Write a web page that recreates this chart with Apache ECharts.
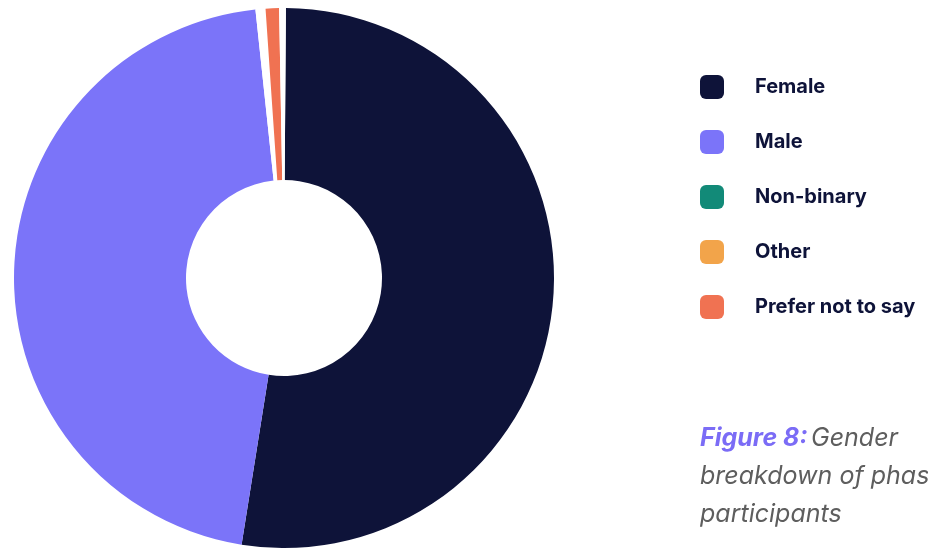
<!DOCTYPE html>
<html>
<head>
<meta charset="utf-8">
<style>
html,body{margin:0;padding:0;background:#fff;}
#chart{width:928px;height:548px;}
</style>
<script src="https://cdn.jsdelivr.net/npm/echarts@6/dist/echarts.min.js"></script>
</head>
<body>
<div id="chart"></div>
<script>
// Legend order (categories) and their colours
const categories = ['Female', 'Male', 'Non-binary', 'Other', 'Prefer not to say'];
const legendColors = ['#0E1339', '#7B74F9', '#128A78', '#F2A44A', '#F07252'];
// Share of participants (%)
const values = [52.4, 45.8, 0.6, 0.4, 0.8];
// Clockwise drawing order in the donut (the tiny Non-binary / Other wedges show as white gaps)
const drawOrder = ['Female', 'Male', 'Non-binary', 'Prefer not to say', 'Other'];
const sliceColors = { 'Female': '#0E1339', 'Male': '#7B74F9', 'Non-binary': '#FFFFFF', 'Other': '#FFFFFF', 'Prefer not to say': '#F07252' };
const captionBold = 'Figure 8:';
const captionLines = ['Gender', 'breakdown of phase', 'participants'];

const chart = echarts.init(document.getElementById('chart'), null, { renderer: 'canvas' });

const seriesData = drawOrder.map(name => ({
  name: name,
  value: values[categories.indexOf(name)],
  itemStyle: { color: sliceColors[name] }
}));

const legendData = categories.map((c, i) => ({
  name: c,
  icon: 'roundRect',
  itemStyle: { color: legendColors[i] }
}));

chart.setOption({
  animation: false,
  backgroundColor: '#ffffff',
  legend: {
    orient: 'vertical',
    left: 700,
    top: 75,
    padding: 0,
    itemWidth: 24,
    itemHeight: 24,
    itemGap: 31,
    selectedMode: false,
    data: legendData,
    textStyle: {
      fontFamily: 'Inter, "Noto Sans", sans-serif',
      fontWeight: 700,
      fontSize: 20,
      color: '#0E1339',
      padding: [0, 0, 0, 26]
    }
  },
  series: [{
    type: 'pie',
    center: [284, 278],
    radius: [98, 270],
    startAngle: 89.6,
    clockwise: true,
    avoidLabelOverlap: false,
    label: { show: false },
    labelLine: { show: false },
    emphasis: { disabled: true },
    silent: true,
    data: seriesData
  }],
  graphic: [{
    type: 'text',
    left: 700,
    top: 426,
    style: {
      text: '{b|' + captionBold + '} {g|' + captionLines[0] + '}\n{g|' + captionLines[1] + '}\n{g|' + captionLines[2] + '}',
      rich: {
        b: { fontFamily: 'Inter, "Noto Sans", sans-serif', fontStyle: 'italic', fontWeight: 700, fontSize: 25, fill: '#7B6CF6', lineHeight: 38 },
        g: { fontFamily: 'Inter, "Noto Sans", sans-serif', fontStyle: 'italic', fontWeight: 400, fontSize: 25, fill: '#5E5E5E', lineHeight: 38 }
      }
    }
  }]
});
</script>
</body>
</html>
